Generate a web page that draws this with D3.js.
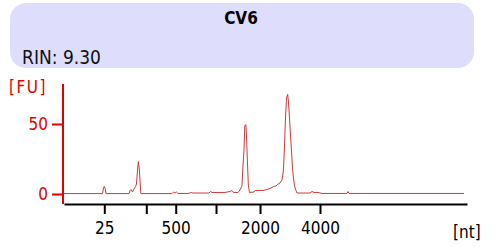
<!DOCTYPE html>
<html>
<head>
<meta charset="utf-8">
<script src="https://cdn.jsdelivr.net/npm/d3@7/dist/d3.min.js"></script>
<style>
  body { margin: 0; background: #fff; }
  svg { display: block; font-family: "DejaVu Sans Condensed", "DejaVu Sans", sans-serif; }
</style>
</head>
<body>
<svg width="495" height="247"></svg>
<script>
// sample name and RIN
var sampleName = "CV6";
var rinText = "RIN: 9.30";

// ladder: migration time (s) -> size (nt)
var ladderTime = [24.0, 29.21, 32.86, 37.86, 43.32, 50.76];
var ladderNt = [25, 200, 500, 1000, 2000, 4000];
var ladderShown = [true, false, true, false, true, true];

var yTicks = [0, 50];

// electropherogram trace, time (s) and fluorescence (FU)
var traceTime = [19.0, 23.78, 23.9, 24.0, 24.12, 24.21, 27.06, 27.19, 27.31, 27.5, 27.62, 27.87, 27.99, 28.12, 28.22, 28.33, 28.43, 28.53,
  32.4, 32.59, 32.77, 32.96, 33.14, 34.51, 34.69, 35.0, 35.87, 36.99, 37.18, 37.36, 38.98, 39.6, 39.84, 40.03, 40.59,
  40.84, 41.08, 41.21, 41.33, 41.43, 41.56, 41.64, 41.74, 41.87, 42.02, 42.58, 42.7, 43.69, 44.19, 44.68, 45.05, 45.3,
  45.55, 45.8, 46.05, 46.23, 46.36, 46.48, 46.61, 46.75, 46.85, 46.98, 47.1, 47.22, 47.35, 47.47, 47.6, 47.78, 47.91,
  48.28, 49.52, 49.77, 50.02, 50.51, 51.01, 54.11, 54.24, 54.36, 68.63];
var traceFU = [0.3, 0.3, 4.3, 5.4, 3.6, 0.3, 0.3, 2.5, 3.2, 1.4, 2.9, 5.4, 7.1, 17.1, 23.1, 18.6, 10.0, 0.3,
  0.3, 1.4, 0.7, 1.4, 0.4, 0.4, 1.1, 0.7, 0.7, 0.7, 1.8, 1.1, 1.1, 1.8, 2.5, 1.1, 1.1,
  2.9, 5.7, 20.7, 31.4, 48.6, 49.6, 42.1, 25.7, 6.4, 1.1, 1.4, 2.5, 2.5, 3.2, 4.3, 5.4, 5.7,
  7.1, 7.9, 10.0, 17.1, 35.0, 54.3, 68.6, 71.2, 65.7, 54.3, 42.1, 31.4, 18.6, 11.4, 5.7, 2.5, 0.7,
  0.7, 0.7, 1.8, 1.1, 1.1, 0.4, 0.4, 1.8, 0.4, 0.4];

var svg = d3.select("svg");

// titel kader
svg.append("rect")
  .attr("x", 10).attr("y", 3)
  .attr("width", 464).attr("height", 65)
  .attr("rx", 16).attr("ry", 16)
  .attr("fill", "#dedefc");

svg.append("text")
  .attr("x", 241).attr("y", 24)
  .attr("text-anchor", "middle")
  .attr("font-size", "17px")
  .attr("font-weight", "bold")
  .text(sampleName);

svg.append("text")
  .attr("x", 22).attr("y", 64)
  .attr("font-size", "19px")
  .attr("fill", "#111")
  .text(rinText);

var x = d3.scaleLinear().domain([19, 69]).range([64, 467]);
var y = d3.scaleLinear().domain([0, 50]).range([194, 124]);

// y as (rood)
var yAxis = svg.append("g")
  .attr("transform", "translate(63,0)")
  .call(d3.axisLeft(y).tickValues(yTicks).tickSize(11).tickPadding(4));
yAxis.select(".domain").remove();
yAxis.selectAll("line").attr("stroke", "#e00000").attr("stroke-width", 2);
yAxis.selectAll("text").attr("fill", "#e00000").attr("font-size", "17px")
  .attr("font-family", "DejaVu Sans Condensed, DejaVu Sans, sans-serif");
svg.append("line")
  .attr("x1", 63).attr("x2", 63)
  .attr("y1", y(78.6)).attr("y2", 204)
  .attr("stroke", "#e00000").attr("stroke-width", 2);

svg.append("text")
  .attr("x", 9).attr("y", 93)
  .attr("fill", "#e00000")
  .attr("font-size", "17px")
  .attr("letter-spacing", "1.5px")
  .text("[FU]");

// x as (zwart)
var xAxis = svg.append("g")
  .attr("transform", "translate(0,204)")
  .call(d3.axisBottom(x)
    .tickValues(ladderTime)
    .tickSize(10)
    .tickPadding(8)
    .tickSizeOuter(0)
    .tickFormat(function(d, i) { return ladderShown[i] ? ladderNt[i] : ""; }));
xAxis.select(".domain").attr("stroke", "#000").attr("stroke-width", 2);
xAxis.selectAll(".tick line").attr("stroke", "#000").attr("stroke-width", 2);
xAxis.selectAll("text").attr("fill", "#000").attr("font-size", "17px")
  .attr("font-family", "DejaVu Sans Condensed, DejaVu Sans, sans-serif");

svg.append("text")
  .attr("x", 453).attr("y", 238)
  .attr("font-size", "17px")
  .text("[nt]");

// de curve
var line = d3.line()
  .x(function(d, i) { return x(traceTime[i]); })
  .y(function(d) { return y(d); });

svg.append("path")
  .datum(traceFU)
  .attr("fill", "none")
  .attr("stroke", "#cc3b3b")
  .attr("stroke-width", 1)
  .attr("d", line);
</script>
</body>
</html>
